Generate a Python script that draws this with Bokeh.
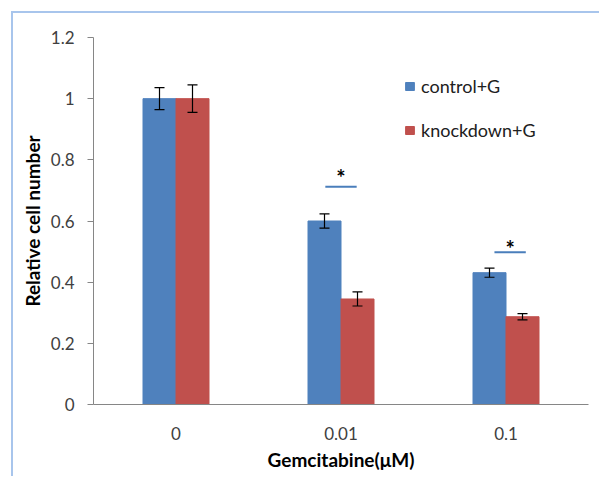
from bokeh.plotting import figure
from bokeh.models import (ColumnDataSource, FactorRange, Range1d, FixedTicker, Whisker,
                          TeeHead, Legend, LegendItem)
from bokeh.transform import dodge
from bokeh.core.properties import value
from bokeh.embed import file_html
from bokeh.resources import INLINE

# ---- data ----
categories = ["0", "0.01", "0.1"]
control_vals = [1.0, 0.60, 0.431]
control_err = [0.036, 0.023, 0.015]
knock_vals = [1.0, 0.345, 0.287]
knock_err = [0.045, 0.023, 0.010]
series_names = ["control+G", "knockdown+G"]
y_ticks = [0, 0.2, 0.4, 0.6, 0.8, 1.0, 1.2]
y_tick_labels = ["0", "0.2", "0.4", "0.6", "0.8", "1", "1.2"]
sig_cats = ["0.01", "0.1"]
sig_line_y = [0.712, 0.498]
sig_star_y = [0.742, 0.509]
sig_offset = [0.0, 0.025]

FONT = "Lato"
BLUE = "#4f81bd"
RED = "#c0504d"

src = ColumnDataSource(dict(
    cat=categories,
    c=control_vals, c_up=[v + e for v, e in zip(control_vals, control_err)],
    c_lo=[v - e for v, e in zip(control_vals, control_err)],
    k=knock_vals, k_up=[v + e for v, e in zip(knock_vals, knock_err)],
    k_lo=[v - e for v, e in zip(knock_vals, knock_err)],
))

p = figure(width=588, height=465, x_range=FactorRange(*categories, range_padding=0),
           y_range=Range1d(0, 1.2), output_backend="svg", toolbar_location=None,
           min_border_left=80, min_border_right=13, min_border_top=24, min_border_bottom=74)
p.styles = {"border-left": "2px solid #a8c5ec", "border-top": "2px solid #a8c5ec",
            "margin-left": "11px", "margin-top": "11px"}
p.outline_line_color = None
p.xgrid.visible = False
p.ygrid.visible = False
p.background_fill_color = "white"
p.border_fill_color = "white"

rc = p.vbar(x=dodge("cat", -0.1, range=p.x_range), top="c", width=0.2, source=src,
            fill_color=BLUE, line_color=BLUE)
rk = p.vbar(x=dodge("cat", 0.1, range=p.x_range), top="k", width=0.2, source=src,
            fill_color=RED, line_color=RED)

for col, off in (("c", -0.1), ("k", 0.1)):
    w = Whisker(base=dodge("cat", off, range=p.x_range), upper=col + "_up", lower=col + "_lo",
                source=src, line_color="black", line_width=1.2, level="annotation",
                upper_head=TeeHead(size=10, line_color="black", line_width=1.2),
                lower_head=TeeHead(size=10, line_color="black", line_width=1.2))
    p.add_layout(w)

# significance markers
sig_src = ColumnDataSource(dict(
    x0=[[c, o - 0.095] for c, o in zip(sig_cats, sig_offset)],
    x1=[[c, o + 0.095] for c, o in zip(sig_cats, sig_offset)],
    xs=[[c, o] for c, o in zip(sig_cats, sig_offset)],
    y=sig_line_y, ys=sig_star_y, t=["*"] * len(sig_cats),
))
p.segment(x0="x0", y0="y", x1="x1", y1="y", source=sig_src, line_color="#4a7ebb", line_width=2)
p.text(x="xs", y="ys", text="t", source=sig_src, text_align="center", text_baseline="middle",
       text_font=value(FONT), text_font_size="22px", text_font_style="bold", text_color="black")

# axes
p.yaxis.ticker = FixedTicker(ticks=y_ticks)
p.yaxis.major_label_overrides = {t: l for t, l in zip(y_ticks, y_tick_labels)}
p.yaxis.minor_tick_line_color = None
p.yaxis.major_tick_in = 0
p.yaxis.major_tick_out = 6
p.yaxis.major_tick_line_color = "#868686"
p.yaxis.axis_line_color = "#868686"
p.yaxis.major_label_standoff = 13
p.yaxis.axis_label = "Relative cell number"
p.yaxis.axis_label_standoff = 4

p.xaxis.major_tick_line_color = None
p.xaxis.axis_line_color = "#868686"
p.xaxis.major_label_standoff = 16
p.xaxis.axis_label = "Gemcitabine(μM)"
p.xaxis.axis_label_standoff = 5

for ax in (p.xaxis[0], p.yaxis[0]):
    ax.major_label_text_font = FONT
    ax.major_label_text_font_size = "17px"
    ax.major_label_text_color = "#404040"
    ax.axis_label_text_font = FONT
    ax.axis_label_text_font_size = "19px"
    ax.axis_label_text_font_style = "bold"
    ax.axis_label_text_color = "black"

legend = Legend(items=[LegendItem(label=series_names[0], renderers=[rc]),
                       LegendItem(label=series_names[1], renderers=[rk])],
                location=(311, 263), orientation="vertical",
                glyph_width=11, glyph_height=10, label_height=20, label_standoff=6,
                spacing=22, padding=0, margin=0, border_line_color=None,
                background_fill_alpha=0,
                label_text_font=FONT, label_text_font_size="18px", label_text_color="#202020")
p.add_layout(legend)

open("out.html", "w").write(file_html(p, INLINE))
